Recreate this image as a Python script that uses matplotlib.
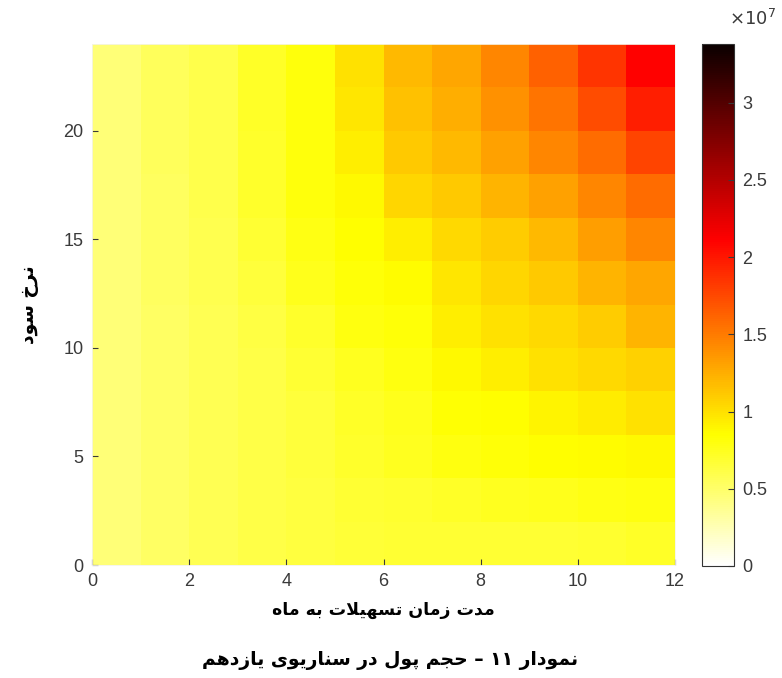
import numpy as np
import matplotlib
matplotlib.use("Agg")
import matplotlib.pyplot as plt
from matplotlib.colors import LinearSegmentedColormap

# ---------------- data ----------------
months = [0, 1, 2, 3, 4, 5, 6, 7, 8, 9, 10, 11, 12]          # column edges
rates = [0, 2, 4, 6, 8, 10, 12, 14, 16, 18, 20, 22, 24]      # row edges
# values in units of 1e7 ; row 0 = bottom (rate 0-2), row 11 = top
row0 = [0.45, 0.52, 0.57, 0.61, 0.64, 0.67, 0.68, 0.68, 0.68, 0.68, 0.69, 0.72]
row1 = [0.45, 0.52, 0.57, 0.61, 0.64, 0.68, 0.69, 0.72, 0.74, 0.76, 0.78, 0.80]
row2 = [0.45, 0.52, 0.57, 0.61, 0.65, 0.70, 0.74, 0.80, 0.83, 0.85, 0.86, 0.88]
row3 = [0.45, 0.52, 0.58, 0.62, 0.66, 0.72, 0.76, 0.84, 0.85, 0.90, 0.95, 1.00]
row4 = [0.45, 0.52, 0.58, 0.62, 0.68, 0.75, 0.80, 0.88, 0.93, 1.00, 1.03, 1.07]
row5 = [0.45, 0.52, 0.58, 0.63, 0.70, 0.80, 0.82, 0.93, 1.00, 1.03, 1.10, 1.22]
row6 = [0.46, 0.53, 0.59, 0.66, 0.76, 0.83, 0.87, 0.97, 1.05, 1.12, 1.22, 1.29]
row7 = [0.46, 0.54, 0.59, 0.68, 0.79, 0.85, 0.93, 1.03, 1.10, 1.20, 1.33, 1.45]
row8 = [0.46, 0.54, 0.60, 0.70, 0.81, 0.88, 1.05, 1.12, 1.22, 1.31, 1.45, 1.58]
row9 = [0.46, 0.55, 0.60, 0.71, 0.81, 0.93, 1.12, 1.20, 1.31, 1.45, 1.58, 1.77]
row10 = [0.46, 0.55, 0.60, 0.72, 0.81, 0.97, 1.16, 1.25, 1.39, 1.54, 1.73, 1.96]
row11 = [0.46, 0.55, 0.60, 0.72, 0.81, 1.00, 1.19, 1.29, 1.44, 1.63, 1.86, 2.11]
scale = 1e7
cmin, cmax = 0.0, 3.38e7
cbar_ticks = [0, 0.5, 1, 1.5, 2, 2.5, 3]
x_ticks = [0, 2, 4, 6, 8, 10, 12]
y_ticks = [0, 5, 10, 15, 20]

xlabel_fa = "مدت زمان تسهیلات به ماه"
ylabel_fa = "نرخ سود"
caption_fa = "نمودار ۱۱ – حجم پول در سناریوی یازدهم"

# ---------------- Arabic/Persian shaping ----------------
FORMS = {
    'ا': ('\uFE8D', '\uFE8E', None, None),
    'ب': ('\uFE8F', '\uFE90', '\uFE91', '\uFE92'),
    'پ': ('\uFB56', '\uFB57', '\uFB58', '\uFB59'),
    'ت': ('\uFE95', '\uFE96', '\uFE97', '\uFE98'),
    'ج': ('\uFE9D', '\uFE9E', '\uFE9F', '\uFEA0'),
    'ح': ('\uFEA1', '\uFEA2', '\uFEA3', '\uFEA4'),
    'خ': ('\uFEA5', '\uFEA6', '\uFEA7', '\uFEA8'),
    'د': ('\uFEA9', '\uFEAA', None, None),
    'ر': ('\uFEAD', '\uFEAE', None, None),
    'ز': ('\uFEAF', '\uFEB0', None, None),
    'س': ('\uFEB1', '\uFEB2', '\uFEB3', '\uFEB4'),
    'ل': ('\uFEDD', '\uFEDE', '\uFEDF', '\uFEE0'),
    'م': ('\uFEE1', '\uFEE2', '\uFEE3', '\uFEE4'),
    'ن': ('\uFEE5', '\uFEE6', '\uFEE7', '\uFEE8'),
    'ه': ('\uFEE9', '\uFEEA', '\uFEEB', '\uFEEC'),
    'و': ('\uFEED', '\uFEEE', None, None),
    'ی': ('\uFBFC', '\uFBFD', '\uFBFE', '\uFBFF'),
}


def dual(ch):
    return ch in FORMS and FORMS[ch][2] is not None


def shape(text):
    chars = list(text)
    tokens = []
    i = 0
    while i < len(chars):
        if chars[i] == 'ل' and i + 1 < len(chars) and chars[i + 1] == 'ا':
            tokens.append('LA')
            i += 2
        else:
            tokens.append(chars[i])
            i += 1
    out = []
    for k, t in enumerate(tokens):
        prev = tokens[k - 1] if k > 0 else None
        nxt = tokens[k + 1] if k + 1 < len(tokens) else None
        jp = prev is not None and dual(prev)
        if t == 'LA':
            out.append('\uFEFC' if jp else '\uFEFB')
            continue
        if t not in FORMS:
            out.append(t)
            continue
        jn = dual(t) and nxt is not None and (nxt in FORMS or nxt == 'LA')
        iso, fin, ini, med = FORMS[t]
        if jp and jn:
            out.append(med)
        elif jp:
            out.append(fin)
        elif jn:
            out.append(ini)
        else:
            out.append(iso)
    return ''.join(out[::-1])


# ---------------- colormap (MATLAB-like flipped hot) ----------------
cdict = {
    'red':   [(0.0, 1, 1), (0.625, 1, 1), (1.0, 0.04, 0.04)],
    'green': [(0.0, 1, 1), (0.25, 1, 1), (0.625, 0, 0), (1.0, 0, 0)],
    'blue':  [(0.0, 1, 1), (0.25, 0, 0), (1.0, 0, 0)],
}
cmap = LinearSegmentedColormap('hot_r_matlab', cdict, N=256)

Z = np.array([row0, row1, row2, row3, row4, row5, row6, row7, row8, row9,
              row10, row11]) * scale

fa_family = 'DejaVu Sans'

fig = plt.figure(figsize=(7.82, 6.78), dpi=100)
ax = fig.add_axes([92 / 782, 1 - 565 / 678, (675 - 92) / 782, (565 - 44) / 678])
cax = fig.add_axes([702 / 782, 1 - 566 / 678, 32 / 782, (566 - 44) / 678])

mesh = ax.pcolormesh(months, rates, Z, cmap=cmap, vmin=cmin, vmax=cmax,
                     shading='flat')
ax.set_xlim(0, 12)
ax.set_ylim(0, 24)
ax.set_xticks(x_ticks)
ax.set_yticks(y_ticks)
tick_color = '#3a3a3a'
ax.tick_params(direction='in', length=4, colors=tick_color, labelsize=13,
               pad=6)
for lab in ax.get_xticklabels() + ax.get_yticklabels():
    lab.set_family('Liberation Sans')
for s in ax.spines.values():
    s.set_color('#f4f4ea')
    s.set_linewidth(0.6)

cb = fig.colorbar(mesh, cax=cax)
cb.set_ticks([t * scale for t in cbar_ticks])
cb.set_ticklabels([('%g' % t) for t in cbar_ticks])
cb.ax.tick_params(direction='in', length=4, colors=tick_color, labelsize=13,
                  pad=6, right=True, left=False)
for lab in cb.ax.get_yticklabels():
    lab.set_family('Liberation Sans')
cb.outline.set_edgecolor('#333333')
cb.outline.set_linewidth(0.8)
fig.text(729 / 782, 1 - 19 / 678, r'$\times10^{7}$', fontsize=13,
         color=tick_color, ha='left', va='center', family='Liberation Sans')

ax.set_xlabel(shape(xlabel_fa), family=fa_family, fontsize=12.5,
              fontweight='bold', color='black', labelpad=8)
ax.set_ylabel(shape(ylabel_fa), family=fa_family, fontsize=13.5,
              fontweight='bold', color='black', labelpad=18)
fig.text(390 / 782, 1 - 660 / 678, shape(caption_fa), family=fa_family,
         fontsize=13.5, fontweight='bold', ha='center', va='center')

fig.savefig('out.png', dpi=100)
